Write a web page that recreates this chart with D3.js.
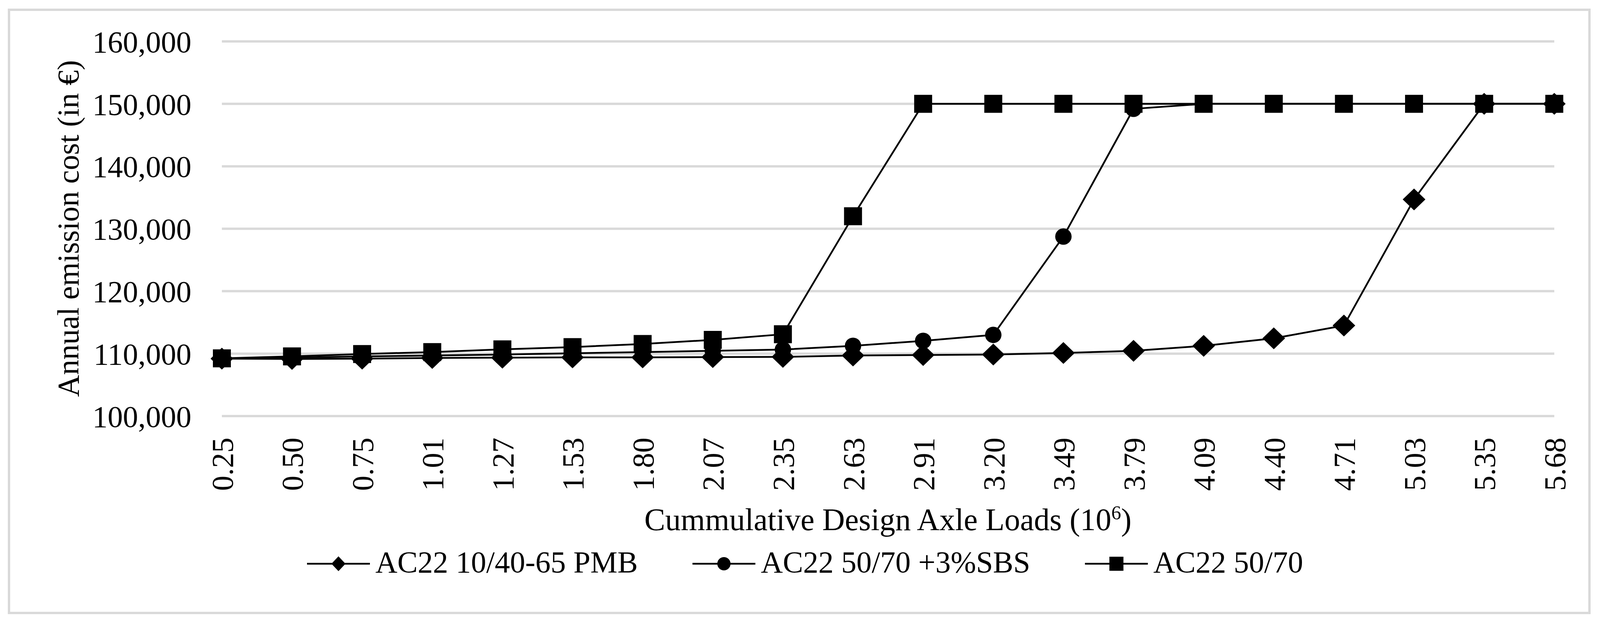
<!DOCTYPE html>
<html>
<head>
<meta charset="utf-8">
<script src="https://cdn.jsdelivr.net/npm/d3@7"></script>
<style>
  body { margin: 0; background: #fff; }
  text { font-family: "Liberation Serif", "Times New Roman", serif; fill: #000; }
</style>
</head>
<body>
<svg id="chart" width="4098" height="1587"></svg>
<script>
// values
var loads = ["0.25", "0.50", "0.75", "1.01", "1.27", "1.53", "1.80", "2.07", "2.35", "2.63",
	"2.91", "3.20", "3.49", "3.79", "4.09", "4.40", "4.71", "5.03", "5.35", "5.68"];

var pmb = [109200, 109150, 109200, 109300, 109350, 109400, 109400, 109450, 109480, 109700,
	109780, 109850, 110100, 110450, 111250, 112450, 114500, 134700, 150000, 150000];

var sbs = [109200, 109350, 109550, 109700, 109850, 110050, 110250, 110450, 110650, 111250,
	112050, 113000, 128750, 149200, 150000, 150000, 150000, 150000, 150000, 150000];

var plain = [109250, 109560, 109940, 110250, 110690, 111050, 111550, 112200, 113100, 132000,
	150000, 150000, 150000, 150000, 150000, 150000, 150000, 150000, 150000, 150000];

var yTicks = [100000, 110000, 120000, 130000, 140000, 150000, 160000];
var seriesNames = ["AC22 10/40-65 PMB", "AC22 50/70 +3%SBS", "AC22 50/70"];
var seriesShapes = ["diamond", "circle", "square"];
var seriesValues = [pmb, sbs, plain];

var svg = d3.select("#chart");
var grey = "#d9d9d9";
var fontSize = 78;

var x = d3.scalePoint().domain(loads).range([568, 3979]);
var y = d3.scaleLinear().domain([100000, 160000]).range([1065, 106]);

// outer chart border
svg.append("rect")
	.attr("x", 23).attr("y", 25)
	.attr("width", 4046).attr("height", 1544)
	.attr("fill", "none")
	.attr("stroke", grey)
	.attr("stroke-width", 6);

// horizontal gridlines
svg.append("g")
	.selectAll("line")
	.data(yTicks)
	.join("line")
	.attr("x1", x.range()[0])
	.attr("x2", x.range()[1])
	.attr("y1", (d) => y(d))
	.attr("y2", (d) => y(d))
	.attr("stroke", grey)
	.attr("stroke-width", 6);

// y axis labels
var yAxis = svg.append("g")
	.attr("transform", "translate(568,0)")
	.call(d3.axisLeft(y).tickValues(yTicks).tickFormat(d3.format(",")).tickSize(0).tickPadding(78));
yAxis.select(".domain").remove();
yAxis.selectAll("text")
	.attr("font-size", fontSize)
	.attr("font-family", null)
	.attr("fill", "#000")
	.attr("dy", "0.35em");

// x axis labels, rotated
var xAxis = svg.append("g")
	.attr("transform", "translate(0,1065)")
	.call(d3.axisBottom(x).tickSize(0));
xAxis.select(".domain").remove();
xAxis.selectAll("text")
	.attr("font-size", fontSize)
	.attr("font-family", null)
	.attr("fill", "#000")
	.attr("y", 0)
	.attr("dy", "0.35em")
	.attr("text-anchor", "end")
	.attr("transform", "translate(0,55) rotate(-90)");

// axis titles
svg.append("text")
	.attr("transform", "translate(201,585) rotate(-90)")
	.attr("text-anchor", "middle")
	.attr("font-size", fontSize)
	.text("Annual emission cost (in €)");

var xTitle = svg.append("text")
	.attr("x", 2273)
	.attr("y", 1357)
	.attr("text-anchor", "middle")
	.attr("font-size", 80);
xTitle.append("tspan").text("Cummulative Design Axle Loads (10");
xTitle.append("tspan").attr("font-size", 50).attr("dy", -28).text("6");
xTitle.append("tspan").attr("dy", 28).text(")");

// marker shapes
function markerPath(shape, big) {
	var p = d3.path();
	if (shape == "diamond") {
		var w = big ? 29 : 18, h = big ? 28 : 19;
		p.moveTo(0, -h); p.lineTo(w, 0); p.lineTo(0, h); p.lineTo(-w, 0); p.closePath();
		return p.toString();
	}
	if (shape == "circle") {
		var r = big ? 21 : 17;
		return d3.symbol(d3.symbolCircle, Math.PI * r * r)();
	}
	var s = big ? 46 : 36;
	return d3.symbol(d3.symbolSquare, s * s)();
}

var line = d3.line()
	.x((d, i) => x(loads[i]))
	.y((d) => y(d));

// series, drawn in legend order so the squares end up on top
seriesValues.forEach((vals, k) => {
	var g = svg.append("g");
	g.append("path")
		.attr("d", line(vals))
		.attr("fill", "none")
		.attr("stroke", "#000")
		.attr("stroke-width", 4.5)
		.attr("stroke-linejoin", "round");
	g.selectAll("path.mk")
		.data(vals)
		.join("path")
		.attr("class", "mk")
		.attr("d", markerPath(seriesShapes[k], true))
		.attr("transform", (d, i) => "translate(" + x(loads[i]) + "," + y(d) + ")")
		.attr("fill", "#000");
});

// legend, centred under the chart
var legend = svg.append("g");
var items = [];
seriesNames.forEach((name, k) => {
	var item = legend.append("g");
	item.append("line")
		.attr("x1", 0).attr("x2", 161)
		.attr("y1", 1443).attr("y2", 1443)
		.attr("stroke", "#000")
		.attr("stroke-width", 4.5);
	item.append("path")
		.attr("d", markerPath(seriesShapes[k], false))
		.attr("transform", "translate(80.5,1443)")
		.attr("fill", "#000");
	var t = item.append("text")
		.attr("x", 175)
		.attr("y", 1465)
		.attr("font-size", fontSize)
		.text(name);
	items.push({ g: item, w: 175 + t.node().getComputedTextLength() });
});
var gap = 140;
var total = d3.sum(items, (d) => d.w) + gap * (items.length - 1);
var cx = 2061 - total / 2;
items.forEach((it) => {
	it.g.attr("transform", "translate(" + cx + ",0)");
	cx += it.w + gap;
});
</script>
</body>
</html>
